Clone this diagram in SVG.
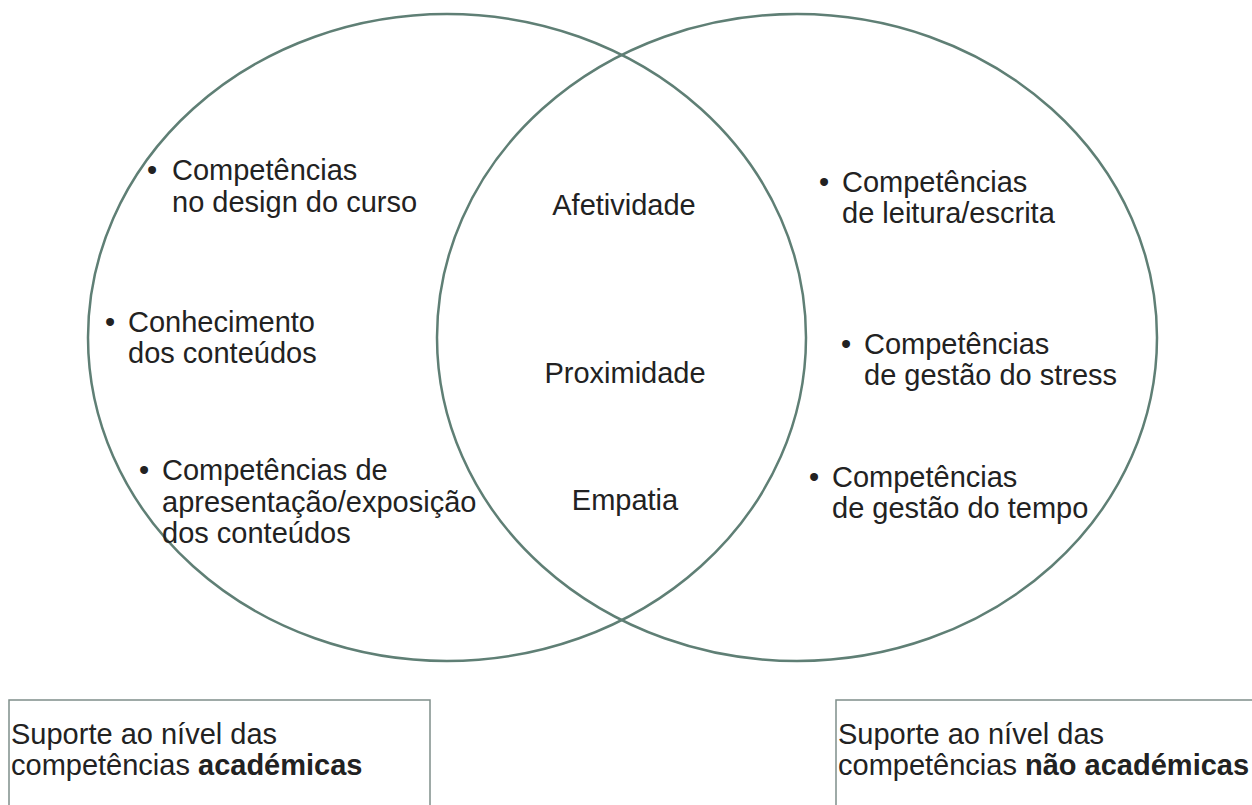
<svg xmlns="http://www.w3.org/2000/svg" width="1252" height="805" viewBox="0 0 1252 805">
<style>
.ring{fill:none;stroke:#5f7f75;stroke-width:2.5}
.box{fill:#fff;stroke:#7f8f8a;stroke-width:1.5}
text{font-family:"Liberation Sans",Arial,sans-serif;font-size:29px;fill:#222}
.c{text-anchor:middle}
.b{font-weight:bold}
</style>
<rect width="1252" height="805" fill="#fff"/>
<g id="boxes">
<g id="box-left"><rect class="box" x="9" y="700" width="421" height="120"/>
<text x="11" y="744">Suporte ao nível das</text>
<text x="11" y="775">competências <tspan class="b">académicas</tspan></text></g>
<g id="box-right"><rect class="box" x="836" y="700" width="430" height="120"/>
<text x="838" y="744">Suporte ao nível das</text>
<text x="838" y="775">competências <tspan class="b">não académicas</tspan></text></g>
</g>
<g id="connectors"></g>
<g id="circle-left"><ellipse class="ring" cx="447" cy="337.5" rx="359" ry="323.5"/></g>
<g id="circle-right"><ellipse class="ring" cx="797" cy="337.5" rx="360" ry="323.5"/></g>
<g id="left-items">
<text class="c" x="152" y="180">•</text>
<text x="172" y="180">Competências</text>
<text x="172" y="212">no design do curso</text>
<text class="c" x="110" y="332">•</text>
<text x="128" y="332">Conhecimento</text>
<text x="128" y="363">dos conteúdos</text>
<text class="c" x="144" y="480">•</text>
<text x="162" y="480">Competências de</text>
<text x="162" y="512">apresentação/exposição</text>
<text x="162" y="543">dos conteúdos</text>
</g>
<g id="center-items">
<text class="c" x="624" y="215">Afetividade</text>
<text class="c" x="625" y="383">Proximidade</text>
<text class="c" x="625" y="510">Empatia</text>
</g>
<g id="right-items">
<text class="c" x="824" y="192">•</text>
<text x="842" y="192">Competências</text>
<text x="842" y="223">de leitura/escrita</text>
<text class="c" x="846" y="354">•</text>
<text x="864" y="354">Competências</text>
<text x="864" y="385">de gestão do stress</text>
<text class="c" x="814" y="487">•</text>
<text x="832" y="487">Competências</text>
<text x="832" y="518">de gestão do tempo</text>
</g>
</svg>
